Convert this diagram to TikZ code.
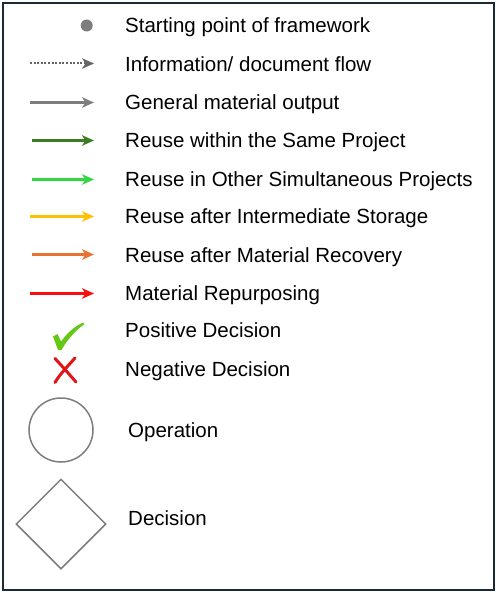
\documentclass[tikz,border=0pt]{standalone}
\usepackage{fontspec}
\setmainfont{Liberation Sans}
\usetikzlibrary{arrows.meta,shapes.geometric}
\definecolor{framec}{RGB}{27,42,58}
\definecolor{grayc}{RGB}{125,125,125}
\definecolor{dotc}{RGB}{100,100,100}
\definecolor{dgreen}{RGB}{58,125,34}
\definecolor{lgreen}{RGB}{50,215,70}
\definecolor{yellowc}{RGB}{255,192,0}
\definecolor{orangec}{RGB}{233,113,50}
\definecolor{redc}{RGB}{250,15,15}
\definecolor{checkc}{RGB}{100,200,20}
\definecolor{crossc}{RGB}{225,20,25}
\tikzset{
  legarrow/.style={line width=2.2pt,-{Stealth[length=12pt,width=10.5pt,inset=3.5pt]}},
  legtext/.style={anchor=base west,font=\fontsize{20.5}{24}\selectfont,inner sep=0pt,text=black},
}
\begin{document}
\begin{tikzpicture}[x=1pt,y=-1pt]
\useasboundingbox (0,0) rectangle (498,593);
\draw[framec,line width=2.8pt] (3,3) rectangle (494,590);
% dot
\fill[grayc] (86.7,25.5) circle (6);
\node[legtext] (t1) at (125,33) {Starting point of framework};
% arrows
\coordinate (a2s) at (30,63.5); \coordinate (a2e) at (94,63.5);
\draw[legarrow,dotc,line width=2pt,dash pattern=on 2pt off 1.6pt] (a2s) -- (a2e);
\node[legtext] (t2) at (125,71.5) {Information/ document flow};
\coordinate (a3s) at (30,102.5); \coordinate (a3e) at (94,102.5);
\draw[legarrow,grayc] (a3s) -- (a3e);
\node[legtext] (t3) at (125,109.5) {General material output};
\coordinate (a4s) at (32,140.5); \coordinate (a4e) at (94,140.5);
\draw[legarrow,dgreen] (a4s) -- (a4e);
\node[legtext] (t4) at (125,148) {Reuse within the Same Project};
\coordinate (a5s) at (32,179.5); \coordinate (a5e) at (94,179.5);
\draw[legarrow,lgreen] (a5s) -- (a5e);
\node[legtext] (t5) at (125,186.5) {Reuse in Other Simultaneous Projects};
\coordinate (a6s) at (30,216.5); \coordinate (a6e) at (94,216.5);
\draw[legarrow,yellowc] (a6s) -- (a6e);
\node[legtext] (t6) at (125,224) {Reuse after Intermediate Storage};
\coordinate (a7s) at (32,254.5); \coordinate (a7e) at (94,254.5);
\draw[legarrow,orangec] (a7s) -- (a7e);
\node[legtext] (t7) at (125,262) {Reuse after Material Recovery};
\coordinate (a8s) at (30,293.5); \coordinate (a8e) at (94,293.5);
\draw[legarrow,redc] (a8s) -- (a8e);
\node[legtext] (t8) at (125,300.5) {Material Repurposing};
% check mark
\fill[checkc] (53,336.5) -- (57.5,334) -- (61,341.5) .. controls (68,332) and (75,326) .. (83.5,322.5)
  -- (84,324.5) .. controls (75,331) and (67,340) .. (61.5,350) -- (58,350) -- cycle;
\node[legtext] (t9) at (125,337.5) {Positive Decision};
% cross
\draw[crossc,line width=3pt,line cap=round] (55,358.5) .. controls (62,366) and (69,374) .. (76,382);
\draw[crossc,line width=3pt,line cap=round] (75,358) .. controls (68,366) and (60,374) .. (55,382.5);
\node[legtext] (t10) at (125,376.5) {Negative Decision};
% operation circle
\node[draw=grayc,line width=1.5pt,circle,minimum size=64pt,inner sep=0pt] (op) at (61,430) {};
\node[legtext] (t11) at (128,437.5) {Operation};
% decision diamond
\node[draw=grayc,line width=1.5pt,diamond,minimum width=90pt,minimum height=90pt,inner sep=0pt,shape aspect=1] (dec) at (61,524) {};
\node[legtext] (t12) at (128,525.5) {Decision};
\end{tikzpicture}
\end{document}
